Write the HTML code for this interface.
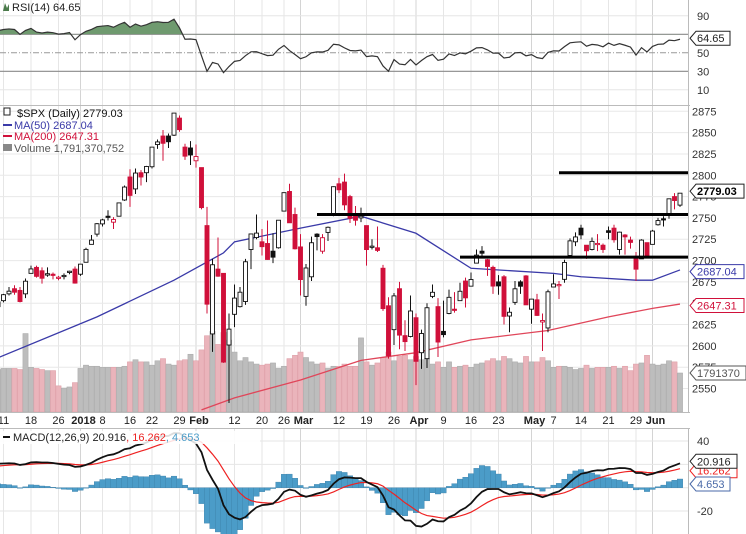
<!DOCTYPE html>
<html><head><meta charset="utf-8">
<style>
html,body{margin:0;padding:0;background:#fff;}
svg{display:block;font-family:"Liberation Sans",sans-serif;}
</style></head>
<body>
<svg id="chart" width="746" height="534" viewBox="0 0 746 534" xmlns="http://www.w3.org/2000/svg"></svg>
<script>
// ---- data ----
const opens = [2646,2653,2661,2667,2665,2661,2685,2692,2688,2683,2684,2680,2682,2686,2690,2684,2698,2719,2731,2743,2752,2745,2752,2771,2798,2784,2803,2803,2810,2836,2846,2846,2847,2867,2833,2832,2817,2809,2741,2614,2690,2685,2601,2637,2646,2652,2713,2727,2722,2720,2711,2715,2758,2781,2754,2716,2658,2681,2731,2711,2733,2753,2790,2792,2775,2754,2750,2741,2716,2715,2691,2647,2619,2667,2612,2611,2633,2592,2585,2658,2646,2617,2638,2643,2653,2676,2670,2697,2711,2701,2692,2675,2681,2635,2651,2675,2682,2643,2654,2628,2621,2669,2671,2678,2706,2722,2738,2718,2713,2719,2718,2735,2738,2713,2730,2724,2705,2702,2721,2719,2742,2749,2753,2775,2765];
const highs = [2652,2661,2669,2671,2669,2679,2694,2694,2692,2692,2686,2682,2685,2688,2693,2696,2715,2730,2744,2749,2759,2751,2768,2788,2807,2808,2806,2811,2833,2842,2853,2849,2873,2870,2837,2840,2836,2809,2763,2702,2727,2685,2638,2672,2669,2702,2731,2754,2737,2747,2732,2747,2780,2790,2762,2731,2696,2728,2732,2731,2740,2787,2797,2802,2777,2764,2762,2741,2725,2740,2695,2657,2662,2675,2630,2659,2638,2619,2650,2672,2656,2653,2666,2663,2674,2680,2686,2713,2717,2702,2694,2683,2683,2645,2676,2677,2683,2655,2661,2638,2666,2684,2676,2701,2726,2733,2742,2718,2727,2731,2720,2740,2742,2734,2731,2728,2710,2725,2721,2736,2750,2752,2772,2779,2779];
const lows = [2644,2651,2659,2660,2651,2656,2685,2680,2673,2681,2678,2677,2678,2684,2673,2682,2698,2719,2728,2740,2747,2737,2752,2770,2763,2778,2788,2792,2808,2831,2817,2832,2846,2851,2818,2812,2809,2760,2638,2593,2681,2580,2533,2622,2645,2648,2690,2725,2706,2701,2697,2714,2758,2744,2713,2659,2647,2676,2712,2708,2723,2752,2779,2759,2744,2741,2745,2694,2713,2710,2641,2585,2601,2596,2594,2610,2554,2573,2574,2656,2587,2610,2637,2639,2653,2645,2670,2697,2703,2682,2661,2660,2625,2616,2648,2661,2648,2626,2635,2594,2616,2669,2655,2674,2706,2717,2725,2702,2712,2711,2709,2725,2721,2707,2707,2714,2676,2702,2705,2719,2741,2740,2749,2760,2763];
const closes = [2651.5,2660.0,2664.1,2662.9,2652.0,2675.8,2690.2,2681.5,2679.3,2684.6,2683.3,2680.5,2682.6,2687.5,2673.6,2695.8,2713.1,2724.0,2743.2,2747.7,2751.3,2748.2,2767.6,2786.2,2776.4,2802.6,2798.0,2810.3,2833.0,2839.1,2837.5,2839.3,2872.9,2853.5,2822.4,2823.8,2822.0,2762.1,2648.9,2695.1,2681.7,2581.0,2619.6,2656.0,2662.9,2698.6,2731.2,2732.2,2716.3,2701.3,2704.0,2747.3,2779.6,2744.3,2713.8,2677.7,2691.3,2720.9,2728.1,2726.8,2739.0,2786.6,2783.0,2765.3,2749.5,2747.3,2752.0,2712.9,2716.9,2711.9,2643.7,2588.3,2658.6,2612.6,2605.0,2640.9,2581.9,2614.5,2644.7,2662.8,2604.5,2613.2,2656.9,2642.2,2664.0,2656.3,2677.8,2706.4,2708.6,2693.1,2670.1,2670.3,2634.6,2639.4,2666.9,2669.9,2648.1,2654.8,2635.7,2629.7,2663.4,2672.6,2671.9,2697.8,2723.1,2727.7,2730.1,2711.5,2722.5,2720.1,2713.0,2733.0,2724.4,2733.3,2727.8,2721.3,2689.9,2724.0,2705.3,2734.6,2746.9,2748.8,2772.4,2770.4,2779.0];
const volumes = [1.95,2.0,2.0,2.0,1.95,3.6,2.05,2.0,1.95,1.9,1.9,1.2,1.1,1.15,1.35,2.0,2.15,2.1,2.1,2.05,2.05,2.05,2.05,2.1,2.3,2.4,2.3,2.3,2.15,2.35,2.45,2.2,2.15,2.35,2.4,2.65,2.35,2.85,3.5,3.7,3.1,3.65,3.3,2.75,2.35,2.5,2.3,2.2,2.15,2.2,2.25,2.0,2.1,2.45,2.6,2.75,2.5,2.3,2.2,2.25,2.0,2.1,2.1,2.2,2.1,2.1,3.4,2.3,2.15,2.25,2.5,2.75,2.35,2.55,2.6,2.4,2.55,2.4,2.45,2.2,2.3,2.05,2.3,2.05,2.1,2.15,2.05,2.2,2.25,2.35,2.45,2.35,2.55,2.45,2.3,2.25,2.55,2.3,2.3,2.5,2.35,2.05,2.1,2.1,2.05,1.95,2.0,2.15,2.0,2.05,2.05,2.05,2.1,2.0,2.1,1.9,2.2,2.25,2.6,2.2,2.15,2.2,2.35,2.3,1.79];
const ma50Idx = [0,18,32,41,43,55,66,76,86,101,106,116,119,124];
const ma50Val = [2586,2634,2677,2709,2722,2738,2752,2732,2691,2685,2681,2677,2677,2689];
const ma200Idx = [37,43,55,66,76,86,100,111,119,124];
const ma200Val = [2525,2539,2560,2583,2592,2607,2618,2634,2644,2649];
const tickIdx = [1,6,11,15,19,24,28,33,36,43,48,52,55,62,67,72,76,81,86,91,97,101,106,111,116,119];
const tickLabels = ["11","18","26","2018","8","16","22","29","Feb","12","20","26","Mar","12","19","26","Apr","9","16","23","May","7","14","21","29","Jun"];
const tickBold = [0,0,0,1,0,0,0,0,1,0,0,0,1,0,0,0,1,0,0,0,1,0,0,0,0,1];
const priceTicks = [2550,2575,2600,2625,2650,2675,2700,2725,2750,2775,2800,2825,2850,2875];
const rsiTicks = [10,30,50,70,90];
const macdTicks = [40,20,0,-20];
const supportLevels = [2803,2754,2704];
const supportStart = [102,58,84];
// indicator seeds (state before first bar)
const rsiSeedGain = 9, rsiSeedLoss = 3.6, prevCloseSeed = 2636;
const ema12Seed = 2637, ema26Seed = 2616, signalSeed = 18;

// ---- scales ----
const N = closes.length;
const PR = 688;
const xS = i => 680 - (N - 1 - i) * 5.5;
const yP = p => 113 + (2873 - p) * 0.853;
const yV = v => 412 - v * 21.8;
const yR = v => 52.8 - (v - 50) * 0.925;
const yM = v => 487.7 - v * 1.167;

const NS = "http://www.w3.org/2000/svg";
const svg = document.getElementById('chart');
function mk(tag, attrs, parent) {
  const e = document.createElementNS(NS, tag);
  for (const k in attrs) e.setAttribute(k, attrs[k]);
  (parent || svg).appendChild(e);
  return e;
}
function txt(s, attrs, parent) { const t = mk('text', attrs, parent); t.textContent = s; return t; }

// defs / clips
const defs = mk('defs', {});
const c1 = mk('clipPath', {id: 'clipRsi'}, defs); mk('rect', {x: 0, y: 0, width: PR, height: 105}, c1);
const c2 = mk('clipPath', {id: 'clipPrice'}, defs); mk('rect', {x: 0, y: 105, width: PR, height: 307}, c2);
const c3 = mk('clipPath', {id: 'clipMacd'}, defs); mk('rect', {x: 0, y: 428, width: PR, height: 106}, c3);
const c4 = mk('clipPath', {id: 'clipRsiFill'}, defs); mk('rect', {x: 0, y: 0, width: PR, height: yR(70)}, c4);

// vertical grid
tickIdx.forEach((ti, k) => {
  [[0, 105], [105, 412], [428, 534]].forEach(([a, b]) => {
    const l = mk('line', {x1: xS(ti), x2: xS(ti), y1: a, y2: b, stroke: tickBold[k] ? '#d4d4d4' : '#e6e6e6', 'stroke-width': 1});
    
    
  });
});

// ---------- RSI panel ----------
const rsi = [];
{
  let ag = rsiSeedGain, al = rsiSeedLoss, pc = prevCloseSeed;
  closes.forEach(c => {
    const d = c - pc; pc = c;
    ag = (ag * 13 + Math.max(d, 0)) / 14;
    al = (al * 13 + Math.max(-d, 0)) / 14;
    rsi.push(100 - 100 / (1 + ag / al));
  });
}
rsiTicks.forEach(v => {
  const strong = (v === 30 || v === 70);
  const l = mk('line', {x1: 0, x2: PR, y1: yR(v), y2: yR(v), stroke: strong ? '#8a8a8a' : (v === 50 ? '#999' : '#e6e6e6'), 'stroke-width': strong ? 1.2 : 1, 'stroke-dasharray': v === 50 ? '6,2,1,2' : 'none'});
  
  
  const t = txt(String(v), {x: 697, y: yR(v) + 4, 'font-size': 11, fill: '#333'});
  
  
});
{
  const pts = rsi.map((v, i) => xS(i) + ',' + yR(v)).join(' ');
  const area = mk('polygon', {points: xS(0) + ',' + yR(70) + ' ' + pts + ' ' + xS(N - 1) + ',' + yR(70), fill: '#6f9a6f', 'clip-path': 'url(#clipRsiFill)'});
  
  
  const line = mk('polyline', {points: pts, fill: 'none', stroke: '#333', 'stroke-width': 1.2, 'clip-path': 'url(#clipRsi)'});
  
  
}
{
  const g = mk('g', {});
  
  
  mk('path', {d: 'M3,11 L5,3 L7,8 L9,4 L9,11 Z', fill: '#4a7a4a'}, g);
  txt('RSI(14) 64.65', {x: 12, y: 11, 'font-size': 11, fill: '#222'}, g);
}
mk('line', {x1: 0, x2: 690, y1: 105.5, y2: 105.5, stroke: '#bbb'});
mk('line', {x1: PR + 0.5, x2: PR + 0.5, y1: 0, y2: 412, stroke: '#bbb'});

// ---------- Price panel ----------
priceTicks.forEach(p => {
  const l = mk('line', {x1: 0, x2: PR, y1: yP(p), y2: yP(p), stroke: '#e8e8e8'});
  
  
  const t = txt(String(p), {x: 692, y: yP(p) + 4, 'font-size': 11, fill: '#333'});
  
  
});
// volume
volumes.forEach((v, i) => {
  const down = i > 0 && closes[i] < closes[i - 1];
  const r = mk('rect', {x: xS(i) - 2.6, y: yV(v), width: 5.2, height: 412 - yV(v), fill: down ? '#eab4bb' : '#bdbdbd', stroke: down ? '#dc9aa3' : '#a8a8a8', 'stroke-width': 0.5, 'clip-path': 'url(#clipPrice)'});
  
  
});
// moving averages
function maPath(idx, val, color, name) {
  const p = mk('polyline', {points: idx.map((ix, k) => xS(ix) + ',' + yP(val[k])).join(' '), fill: 'none', stroke: color, 'stroke-width': 1.3, 'clip-path': 'url(#clipPrice)'});
  
  
}
maPath(ma200Idx, ma200Val, '#e0465a', 'ma200-line');
maPath(ma50Idx, ma50Val, '#3a3aa8', 'ma50-line');
// candles
closes.forEach((c, i) => {
  const o = opens[i], h = highs[i], l = lows[i];
  const down = i > 0 && c < closes[i - 1];
  const col = down ? '#d0103a' : '#111';
  const filled = c < o;
  const g = mk('g', {'clip-path': 'url(#clipPrice)'});
  
  
  mk('line', {x1: xS(i), x2: xS(i), y1: yP(h), y2: yP(l), stroke: col, 'stroke-width': 1}, g);
  const top = yP(Math.max(o, c)), bot = yP(Math.min(o, c));
  mk('rect', {x: xS(i) - 2, y: top, width: 4, height: Math.max(bot - top, 1.2), fill: filled ? col : '#fff', stroke: col, 'stroke-width': 0.9}, g);
});
// support lines
supportLevels.forEach((lv, k) => {
  const l = mk('line', {x1: xS(supportStart[k]), x2: PR, y1: yP(lv), y2: yP(lv), stroke: '#000', 'stroke-width': 3});
  
  
});
// legend
{
  const g = mk('g', {});
  
  
  mk('rect', {x: 4, y: 108, width: 6, height: 7, fill: '#fff', stroke: '#222', 'stroke-width': 1}, g);
  txt('$SPX (Daily) 2779.03', {x: 17, y: 117, 'font-size': 11, fill: '#111'}, g);
  mk('line', {x1: 3, x2: 12, y1: 125, y2: 125, stroke: '#3a3aa8', 'stroke-width': 2}, g);
  txt('MA(50) 2687.04', {x: 14, y: 129, 'font-size': 11, fill: '#3a3aa8'}, g);
  mk('line', {x1: 3, x2: 12, y1: 136, y2: 136, stroke: '#d0103a', 'stroke-width': 2}, g);
  txt('MA(200) 2647.31', {x: 14, y: 140, 'font-size': 11, fill: '#d0103a'}, g);
  mk('rect', {x: 3, y: 144, width: 9, height: 7, fill: '#888'}, g);
  txt('Volume 1,791,370,752', {x: 14, y: 152, 'font-size': 11, fill: '#555'}, g);
}
// value tags
function tag(label, y, color, bold, name, w, xx) {
  const g = mk('g', {});
  
  
  const x0 = xx || 690;
  mk('path', {d: `M${x0},${y} L${x0 + 6},${y - 7} L${x0 + 6 + w},${y - 7} L${x0 + 6 + w},${y + 7} L${x0 + 6},${y + 7} Z`, fill: '#fff', stroke: color, 'stroke-width': 1}, g);
  txt(label, {x: x0 + 7, y: y + 4, 'font-size': 11, fill: bold ? '#000' : color, 'font-weight': bold ? 'bold' : 'normal'}, g);
}
tag('2779.03', yP(closes[N - 1]) - 2, '#222', true, 'last-price-tag', 48);
tag('2687.04', yP(2687.04), '#3a3aa8', false, 'ma50-tag', 48);
tag('2647.31', yP(2647.31), '#d0103a', false, 'ma200-tag', 48);
tag('1791370', yV(volumes[N - 1]), '#555', false, 'volume-tag', 50);
tag('64.65', yR(rsi[N - 1]) - 1, '#222', false, 'rsi-tag', 34);

// ---------- X axis ----------
mk('line', {x1: 0, x2: 690, y1: 412.5, y2: 412.5, stroke: '#bbb'});
tickIdx.forEach((ti, k) => {
  const t = txt(tickLabels[k], {x: xS(ti) + (tickBold[k] ? 3 : 0), y: 424, 'font-size': 11, 'font-weight': tickBold[k] ? 'bold' : 'normal', fill: '#222', 'text-anchor': 'middle'});
  
  
});

// ---------- MACD panel ----------
mk('line', {x1: 0, x2: 690, y1: 428.5, y2: 428.5, stroke: '#bbb'});
mk('line', {x1: PR + 0.5, x2: PR + 0.5, y1: 428, y2: 534, stroke: '#bbb'});
const macd = [], signal = [], hist = [];
{
  let e12 = ema12Seed, e26 = ema26Seed, s = signalSeed;
  closes.forEach(c => {
    e12 = e12 + (c - e12) * 2 / 13;
    e26 = e26 + (c - e26) * 2 / 27;
    const m = e12 - e26;
    s = s + (m - s) * 2 / 10;
    macd.push(m); signal.push(s); hist.push(m - s);
  });
}
macdTicks.forEach(v => {
  const l = mk('line', {x1: 0, x2: PR, y1: yM(v), y2: yM(v), stroke: '#e6e6e6'});
  
  
  if (v !== 20) {
    const t = txt(String(v), {x: 697, y: yM(v) + 4, 'font-size': 11, fill: '#333'});
    
    
  }
});
hist.forEach((h, i) => {
  const y0 = yM(0), y1 = yM(h * 1.6);
  const r = mk('rect', {x: xS(i) - 2.75, y: Math.min(y0, y1), width: 5.5, height: Math.max(Math.abs(y1 - y0), 0.5), fill: '#4b9cc8', stroke: '#3a7fa8', 'stroke-width': 0.4, 'clip-path': 'url(#clipMacd)'});
  
  
});
{
  const sl = mk('polyline', {points: signal.map((v, i) => xS(i) + ',' + yM(v)).join(' '), fill: 'none', stroke: '#ee2222', 'stroke-width': 1.2, 'clip-path': 'url(#clipMacd)'});
  
  
  const ml = mk('polyline', {points: macd.map((v, i) => xS(i) + ',' + yM(v)).join(' '), fill: 'none', stroke: '#111', 'stroke-width': 1.8, 'clip-path': 'url(#clipMacd)'});
  
  
}
{
  const g = mk('g', {});
  
  
  mk('rect', {x: 0, y: 431, width: 260, height: 13, fill: '#fff', opacity: 0.85}, g);
  mk('line', {x1: 3, x2: 10, y1: 437, y2: 437, stroke: '#111', 'stroke-width': 2}, g);
  const t = txt('', {x: 13, y: 441, 'font-size': 11}, g);
  [['MACD(12,26,9) 20.916', '#222'], [', 16.262', '#ee2222'], [', 4.653', '#4b9cc8']].forEach(([s, c]) => {
    const sp = document.createElementNS(NS, 'tspan'); sp.setAttribute('fill', c); sp.textContent = s; t.appendChild(sp);
  });
}
tag('16.262', yM(16.262) + 2, '#ee2222', false, 'signal-tag', 41);
tag('20.916', yM(20.916) - 2, '#222', false, 'macd-tag', 41);
tag('4.653', 484, '#4a6aa8', false, 'histogram-tag', 34);
</script>
</body></html>
